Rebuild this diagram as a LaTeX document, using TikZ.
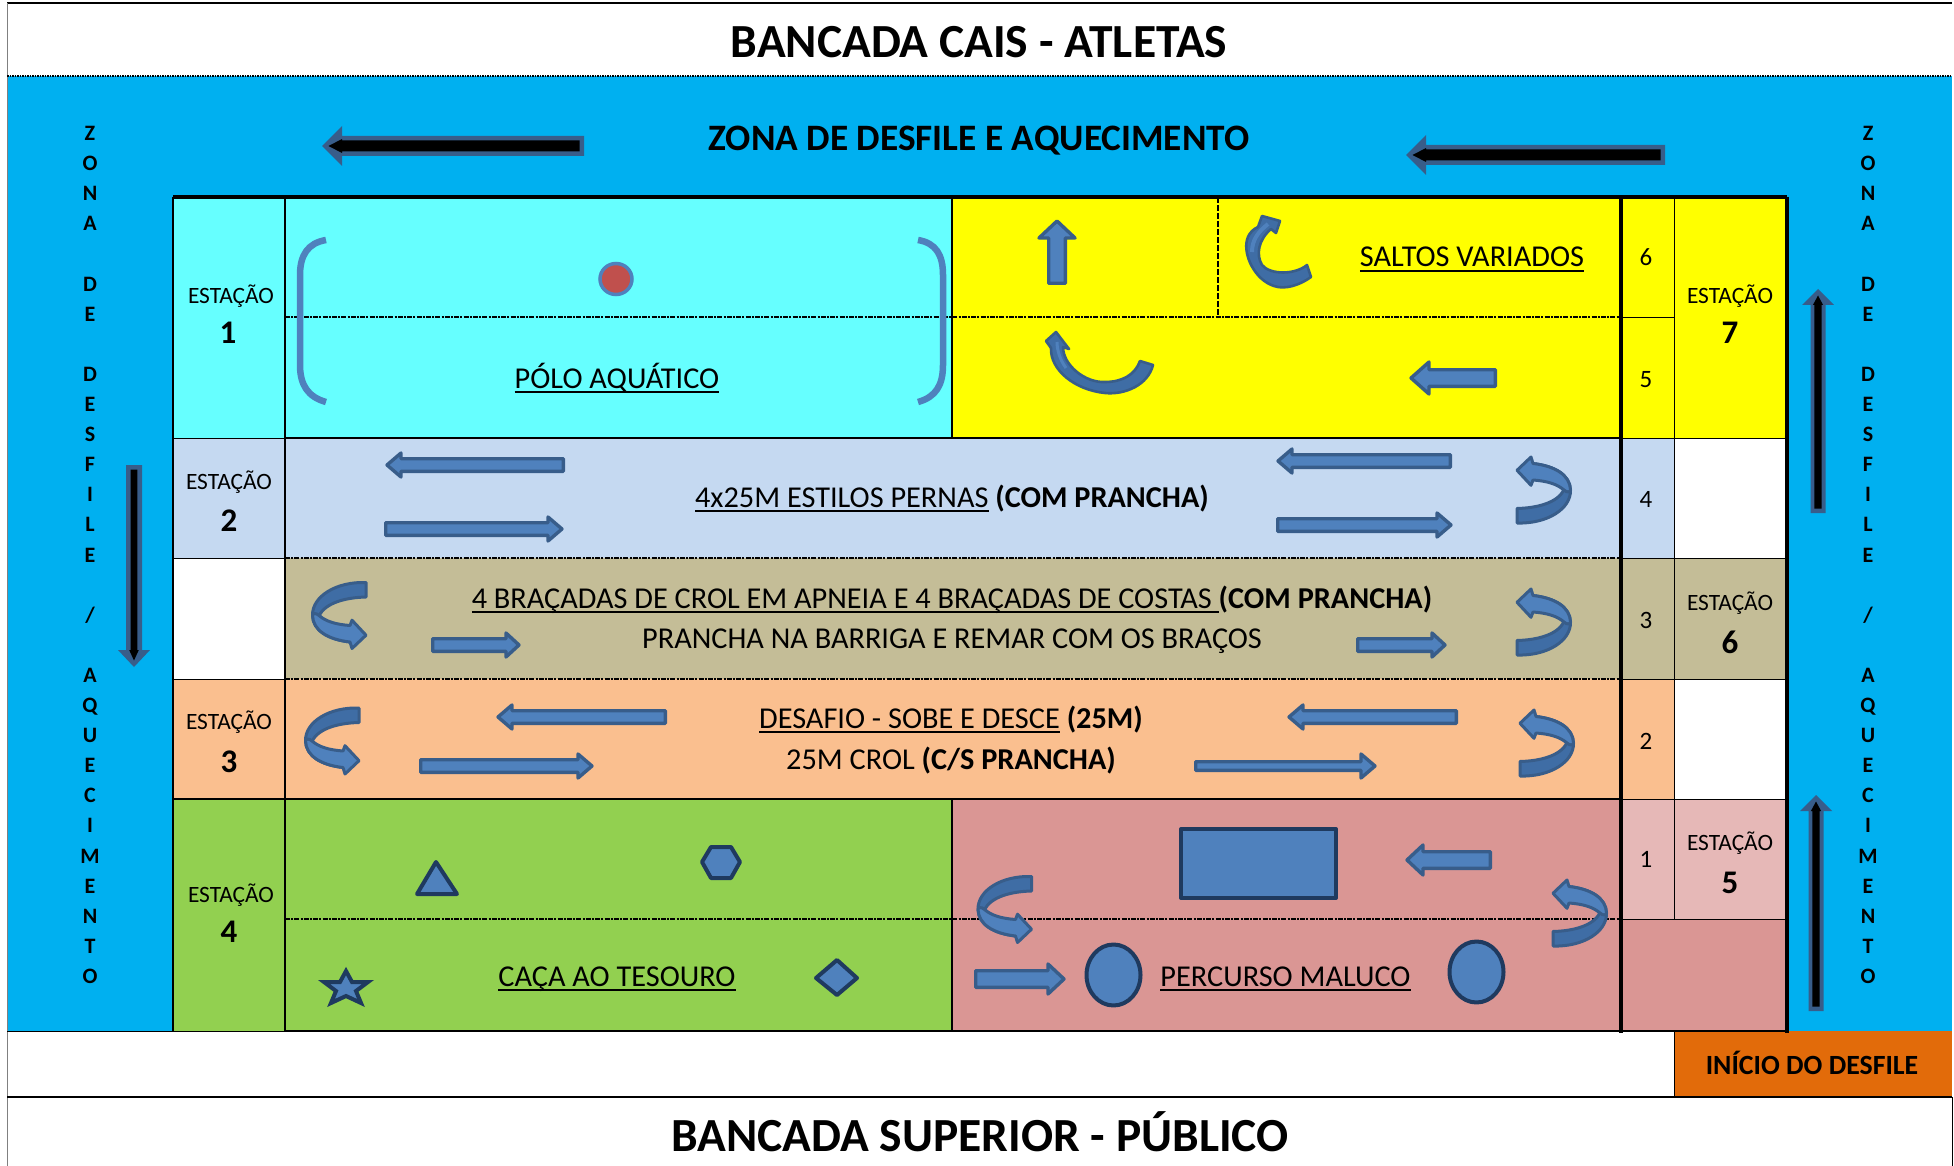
\documentclass[tikz,border=0pt]{standalone}
\usepackage{fontspec}
\setmainfont{Carlito}
\usetikzlibrary{calc}
\definecolor{poolblue}{HTML}{00B0F0}
\definecolor{cyancell}{HTML}{66FFFF}
\definecolor{yellowcell}{HTML}{FFFF00}
\definecolor{lbluecell}{HTML}{C5D9F1}
\definecolor{tancell}{HTML}{C4BD97}
\definecolor{orangecell}{HTML}{FABF8F}
\definecolor{greencell}{HTML}{92D050}
\definecolor{pinkcell}{HTML}{DA9694}
\definecolor{lpinkcell}{HTML}{E6B8B7}
\definecolor{startcell}{HTML}{E26B0A}
\definecolor{arrowfill}{HTML}{4F81BD}
\definecolor{arrowdark}{HTML}{3F6DA5}
\definecolor{arrowline}{HTML}{385D8A}
\definecolor{shapeline}{HTML}{1F3A5F}
\definecolor{ballred}{HTML}{C0504D}
\newcommand\ulx[1]{\leavevmode\vtop{\hbox{\raisebox{0pt}[\height][0pt]{#1}}\kern3pt\hrule height 2.3pt}}
% block arrow: x y angle length shaft-half head-length head-half
\newcommand\blockarr[7]{\begin{scope}[shift={(#1,#2)},rotate=#3]
\draw[blockblue] (1.7,-#5+1.7) -- (#4-#6,-#5+1.7) -- (#4-#6,-#7+2) -- (#4-2,0) -- (#4-#6,#7-2) -- (#4-#6,#5-1.7) -- (1.7,#5-1.7) -- cycle;
\end{scope}}
% parade arrow: x y angle length outer-half head-length head-half inner-half
\newcommand\paradearr[8]{\begin{scope}[shift={(#1,#2)},rotate=#3]
\fill[arrowline] (0,-#5) -- (#4-#6,-#5) -- (#4-#6,-#7) -- (#4,0) -- (#4-#6,#7) -- (#4-#6,#5) -- (0,#5) -- cycle;
\fill[black] (4.5,-#8) -- (#4-#6,-#8) -- (#4-#6,-#8-1.5) -- (#4-6.5,0) -- (#4-#6,#8+1.5) -- (#4-#6,#8) -- (4.5,#8) -- cycle;
\end{scope}}
\newcommand\uturnpath{%
\draw[uturnline,fill=arrowdark] (47,33) .. controls (40,46) and (20,51) .. (0,51.5) -- (0,66) .. controls (30,67) and (54,52) .. (53.5,33) .. controls (53,18) and (38,9) .. (16,6.5) -- cycle;
\draw[uturnline,fill=arrowfill] (16,6.5) -- (14,0) -- (0,13.3) -- (14,28.3) -- (16,23) .. controls (30,24) and (40,27) .. (47,33) .. controls (50,36) and (53.5,35) .. (53.5,33) .. controls (53,18) and (38,9) .. (16,6.5) -- cycle;}
\newcommand\uturnR[2]{\begin{scope}[shift={(#1,#2)}]\uturnpath\end{scope}}
\newcommand\uturnL[2]{\begin{scope}[shift={(#1+53.5,#2+66.5)},xscale=-1,yscale=-1]\uturnpath\end{scope}}
\tikzset{
  x=1pt,y=-1pt,
  blockblue/.style={fill=arrowfill,draw=arrowline,line width=3.4pt,line join=round},
  uturnline/.style={draw=arrowline,line width=3pt,line join=round},
  figshape/.style={fill=arrowfill,draw=shapeline,line width=4pt,line join=round},
  heavy/.style={draw=black,line width=2.8pt},
  heavier/.style={draw=black,line width=3.2pt},
  medium/.style={draw=black,line width=1.8pt},
  thin rule/.style={draw=black,line width=1pt},
  dash rule/.style={draw=black,line width=1.4pt,dash pattern=on 5pt off 1.2pt on 2pt off 1.2pt},
  bigtitle/.style={font=\fontsize{47.5}{52}\selectfont\bfseries,inner sep=0pt,anchor=base},
  cell/.style={font=\fontsize{30.3}{34}\selectfont,inner sep=0pt,anchor=base},
  label st/.style={font=\fontsize{23.4}{26}\selectfont,inner sep=0pt,anchor=base},
  num st/.style={font=\fontsize{33}{36}\selectfont\bfseries,inner sep=0pt,anchor=base},
  num sm/.style={font=\fontsize{25}{28}\selectfont,inner sep=0pt,anchor=base},
  col text/.style={font=\fontsize{22}{30.1}\selectfont\bfseries,inner sep=0pt,align=center},
}
\begin{document}
\begin{tikzpicture}
\useasboundingbox (0,0) rectangle (1954,1166);
\fill[white] (0,0) rectangle (1954,1166);
% backgrounds
\fill[poolblue] (7,76) rectangle (1952,1031);
\fill[startcell] (1674,1031) rectangle (1952,1097);
\fill[cyancell] (173,197) rectangle (952,438);
\fill[yellowcell] (952,197) rectangle (1787,438);
\fill[lbluecell] (173,438) rectangle (1674,558);
\fill[white] (1674,438) rectangle (1787,558);
\fill[white] (173,558) rectangle (285,679);
\fill[tancell] (285,558) rectangle (1787,679);
\fill[orangecell] (173,679) rectangle (1674,799);
\fill[white] (1674,679) rectangle (1787,799);
\fill[greencell] (173,799) rectangle (952,1031);
\fill[pinkcell] (952,799) rectangle (1787,1031);
\fill[lpinkcell] (1621,799) rectangle (1787,919);
% outer frame
\draw[draw=black,line width=2.5pt] (7,3) -- (1952,3);
\draw[draw=gray,line width=1pt] (7,3) -- (7,1166);
\draw[draw=black,line width=1pt] (1952,1097) -- (1952,1166);
\draw[draw=black,line width=1.4pt,dash pattern=on 1.5pt off 1pt] (7,76) -- (1952,76);
\draw[draw=black,line width=2.5pt] (7,1097) -- (1952,1097);
\draw[thin rule] (7,1031) -- (1621,1031);
\draw[thin rule] (1674,1031) -- (1674,1097);
% dashed lane rules
\draw[dash rule] (285,317) -- (1621,317);
\draw[dash rule] (285,558) -- (1621,558);
\draw[dash rule] (285,679) -- (1621,679);
\draw[dash rule] (285,919) -- (1621,919);
\draw[draw=black,line width=1.4pt,dash pattern=on 6pt off 2pt] (1218,197) -- (1218,317);
% thin rules
\draw[thin rule] (173,438) -- (285,438);
\draw[thin rule] (173,558) -- (285,558);
\draw[thin rule] (173,679) -- (285,679);
\draw[thin rule] (1621,317) -- (1674,317);
\draw[thin rule] (1621,438) -- (1787,438);
\draw[thin rule] (1621,558) -- (1787,558);
\draw[thin rule] (1621,679) -- (1787,679);
\draw[thin rule] (1621,799) -- (1787,799);
\draw[thin rule] (1621,919) -- (1787,919);
\draw[thin rule] (1674,197) -- (1674,919);
% heavy rules
\draw[heavier] (173,197) -- (1787,197);
\draw[medium] (173,197) -- (173,1031);
\draw[heavy] (285,197) -- (285,1031);
\draw[heavy] (285,438) -- (1621,438);
\draw[heavy] (173,799) -- (1621,799);
\draw[medium] (952,197) -- (952,438);
\draw[medium] (952,799) -- (952,1031);
\draw[heavier] (1621,197) -- (1621,1033);
\draw[heavier] (1787,197) -- (1787,1033);
\draw[heavy] (285,1031) -- (1787,1031);
% titles
\node[bigtitle] (title1) at (979,57.5) {BANCADA CAIS - ATLETAS};
\node[bigtitle] (title2) at (980,1151) {BANCADA SUPERIOR - PÚBLICO};
\node[font=\fontsize{37.3}{40}\selectfont\bfseries,inner sep=0pt,anchor=base] (zona) at (979,150.5) {ZONA DE DESFILE E AQUECIMENTO};
\node[col text] (coll) at (90,555) {Z\\O\\N\\A\\\mbox{}\\D\\E\\\mbox{}\\D\\E\\S\\F\\I\\L\\E\\\mbox{}\\/\\\mbox{}\\A\\Q\\U\\E\\C\\I\\M\\E\\N\\T\\O};
\node[col text] (colr) at (1868,555) {Z\\O\\N\\A\\\mbox{}\\D\\E\\\mbox{}\\D\\E\\S\\F\\I\\L\\E\\\mbox{}\\/\\\mbox{}\\A\\Q\\U\\E\\C\\I\\M\\E\\N\\T\\O};
% station labels
\node[label st] (e1) at (231,304) {ESTAÇÃO};
\node[num st] (n1) at (228,343) {1};
\node[label st] (e2) at (229,489) {ESTAÇÃO};
\node[num st] (n2) at (229,531) {2};
\node[label st] (e3) at (229,729) {ESTAÇÃO};
\node[num st] (n3) at (229,772) {3};
\node[label st] (e4) at (231,902) {ESTAÇÃO};
\node[num st] (n4) at (229,942) {4};
\node[label st] (e5) at (1730,850) {ESTAÇÃO};
\node[num st] (n5) at (1730,893) {5};
\node[label st] (e6) at (1730,610) {ESTAÇÃO};
\node[num st] (n6) at (1730,653) {6};
\node[label st] (e7) at (1730,304) {ESTAÇÃO};
\node[num st] (n7) at (1730,343) {7};
\node[num sm] (c6) at (1646,266) {6};
\node[num sm] (c5) at (1646,387) {5};
\node[num sm] (c4) at (1646,507) {4};
\node[num sm] (c3) at (1646,628) {3};
\node[num sm] (c2) at (1646,749) {2};
\node[num sm] (c1) at (1646,867) {1};
% lane texts
\node[cell] (polo) at (617,388) {\ulx{PÓLO AQUÁTICO}};
\node[cell] (saltos) at (1472,267) {\ulx{SALTOS VARIADOS}};
\node[cell] (estilos) at (952,507) {\ulx{4x25M ESTILOS PERNAS} \textbf{(COM PRANCHA)}};
\node[cell] (bracadas) at (952,608) {\ulx{4 BRAÇADAS DE CROL EM APNEIA E 4 BRAÇADAS DE COSTAS~}\textbf{(COM PRANCHA)}};
\node[cell] (remar) at (952,648) {PRANCHA NA BARRIGA E REMAR COM OS BRAÇOS};
\node[cell] (desafio) at (951,728) {\ulx{DESAFIO - SOBE E DESCE} \textbf{(25M)}};
\node[cell] (crol) at (951,769) {25M CROL \textbf{(C/S PRANCHA)}};
\node[cell] (caca) at (617,986) {\ulx{CAÇA AO TESOURO}};
\node[cell] (percurso) at (1285.5,986) {\ulx{PERCURSO MALUCO}};
\node[font=\fontsize{27.8}{30}\selectfont\bfseries,inner sep=0pt,anchor=base] (inicio) at (1812,1074) {INÍCIO DO DESFILE};
% black parade arrows
\paradearr{584}{146}{180}{262}{10}{20}{20}{5.5}
\paradearr{1665}{155}{180}{259}{10}{20}{20}{5.5}
\paradearr{134}{465}{270}{202}{8}{17}{16}{3.3}
\paradearr{1818}{513}{90}{224}{7.5}{16}{16}{3.6}
\paradearr{1816}{1011}{90}{216}{7.5}{16}{16}{3.6}
% blue arrows
\blockarr{1057}{285}{90}{66}{10}{19}{20}
\blockarr{1497}{378}{180}{88}{10}{20}{18}
\blockarr{565}{465}{180}{180}{8}{16}{14}
\blockarr{384}{529}{0}{180}{8}{16}{14}
\blockarr{1452}{461}{180}{176}{8}{16}{14}
\blockarr{1276}{525}{0}{177}{8}{16}{14}
\blockarr{431}{645}{0}{90}{8}{15}{14}
\blockarr{1356}{645}{0}{91}{8}{15}{14}
\blockarr{667}{717}{180}{171}{8}{16}{14}
\blockarr{419}{766}{0}{175}{8}{16}{14}
\blockarr{1458}{717}{180}{171}{8}{16}{14}
\blockarr{1194}{766}{0}{183}{6}{16}{14}
\blockarr{1492}{860}{180}{87}{10}{18}{17}
\blockarr{974}{979}{0}{92}{10}{18}{17}
% U-turn arrows
\uturnR{1517}{457}
\uturnR{1517}{589}
\uturnR{1520}{710}
\uturnR{1553}{880}
\uturnL{312.5}{582}
\uturnL{305.5}{707.5}
\uturnL{978}{876}
% yellow curved arrows
\draw[blockblue,fill=arrowdark,line width=2.6pt] (1311,277) .. controls (1300,285) and (1285,290) .. (1274,286) .. controls (1255,280) and (1243,255) .. (1247,240) .. controls (1249,232) and (1254,229) .. (1258,227) -- (1262,216) -- (1280,221) -- (1276,233) -- (1271,229) .. controls (1258,240) and (1256,255) .. (1262,265) .. controls (1270,275) and (1295,275) .. (1307,265) -- cycle;
\draw[draw=arrowfill,line width=4pt] (1268,224) .. controls (1258,232) and (1252,240) .. (1252,252);
\draw[blockblue,fill=arrowdark,line width=2.6pt] (1153,365) .. controls (1148,385) and (1125,395) .. (1105,393) .. controls (1075,390) and (1050,370) .. (1051,348) -- (1046,341) -- (1056,332) -- (1069,349) -- (1063,347) .. controls (1063,365) and (1085,383) .. (1105,382) .. controls (1122,382) and (1135,375) .. (1140,361) -- cycle;
\draw[draw=arrowfill,line width=3pt] (1057,342) .. controls (1057,350) and (1060,360) .. (1066,368);
% pool
\draw[draw=arrowfill,line width=6.5pt] (326,240) .. controls (308,243) and (300,255) .. (300,275) -- (300,365) .. controls (300,385) and (308,397) .. (326,402);
\draw[draw=arrowfill,line width=6.5pt] (918,240) .. controls (936,243) and (943,255) .. (943,275) -- (943,365) .. controls (943,385) and (936,397) .. (918,402);
\draw[fill=ballred,draw=arrowfill,line width=3.5pt] (616,279) ellipse [x radius=16,y radius=15.5];
% obstacle shapes
\draw[figshape] (436,862) -- (457,894) -- (417,894) -- cycle;
\draw[figshape] (702,862) -- (711,847) -- (731,847) -- (740,862) -- (731,878) -- (711,878) -- cycle;
\draw[figshape,line join=miter] (346,971) -- (352,982) -- (368,982) -- (356,991) -- (361,1003) -- (346,996) -- (331,1003) -- (336,991) -- (324,982) -- (340,982) -- cycle;
\draw[figshape] (837,960) -- (857,978) -- (837,995) -- (816,978) -- cycle;
\draw[figshape] (1181,829) rectangle (1336,898);
\draw[figshape] (1113.5,975) ellipse [x radius=27,y radius=30.5];
\draw[figshape] (1476.5,972) ellipse [x radius=27,y radius=30.5];
\end{tikzpicture}
\end{document}
